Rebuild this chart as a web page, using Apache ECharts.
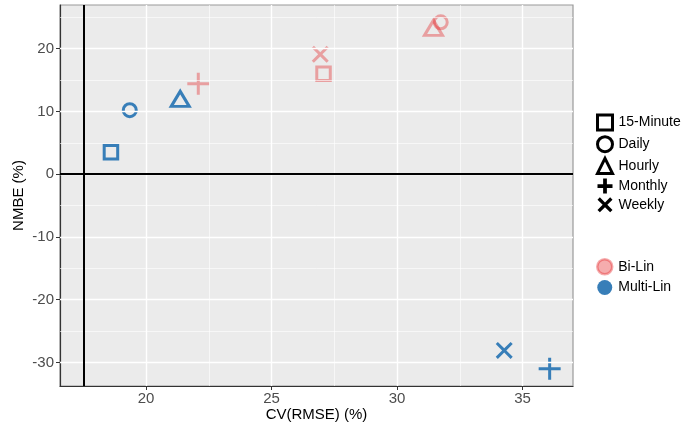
<!DOCTYPE html>
<html>
<head>
<meta charset="utf-8">
<script src="https://cdn.jsdelivr.net/npm/echarts@6/dist/echarts.min.js"></script>
<style>html,body{margin:0;padding:0;background:#fff}#c{width:686px;height:430px}</style>
</head>
<body>
<div id="c"></div>
<script>
// ---- data ----
var shapes = ['15-Minute', 'Daily', 'Hourly', 'Monthly', 'Weekly'];
var models = ['Bi-Lin', 'Multi-Lin'];
var biLinCV    = [27.07, 31.74, 31.45, 22.08, 26.94];
var biLinNMBE  = [16.0, 24.2, 22.9, 14.4, 19.1];
var multiLinCV   = [18.60, 19.35, 21.36, 36.08, 34.27];
var multiLinNMBE = [3.5, 10.2, 11.6, -31.0, -28.1];
var xTicks = [20, 25, 30, 35];
var xMinor = [22.5, 27.5, 32.5];
var yTicks = [-30, -20, -10, 0, 10, 20];
var yMinor = [-25, -15, -5, 5, 15, 25];
var vRef = 17.5;
var hRef = 0;

// ---- styles ----
var FONT = 'Liberation Sans, Arial, sans-serif';
var BLUE = '#377EB8';
var PINK = 'rgba(228,26,28,0.36)';
var PLUS = 'path://M9.5,0H12.5V9.5H22V12.5H12.5V22H9.5V12.5H0V9.5H9.5Z';
var CROSS = 'path://M0,2.12L2.12,0L8.5,6.38L14.88,0L17,2.12L10.62,8.5L17,14.88L14.88,17L8.5,10.62L2.12,17L0,14.88L6.38,8.5Z';
var PLUS_L = 'path://M6,0H10V6H16V10H10V16H6V10H0V6H6Z';
var CROSS_L = 'path://M0,2.5L2.5,0L8,5.5L13.5,0L16,2.5L10.5,8L16,13.5L13.5,16L8,10.5L2.5,16L0,13.5L5.5,8Z';
var icons = {
  '15-Minute': 'rect',
  'Daily': 'circle',
  'Hourly': 'triangle',
  'Monthly': PLUS,
  'Weekly': CROSS
};
var legendIcons = {
  '15-Minute': 'rect',
  'Daily': 'circle',
  'Hourly': 'triangle',
  'Monthly': PLUS_L,
  'Weekly': CROSS_L
};
var filled = {'Monthly': true, 'Weekly': true};
var sizes = {
  '15-Minute': 13.5,
  'Daily': 13,
  'Hourly': [18, 15],
  'Monthly': 22,
  'Weekly': 17
};
var offsets = {'Hourly': [0, -2.6]};

function markStyle(shape, col) {
  if (filled[shape]) return {color: col, borderWidth: 0, opacity: 1};
  return {color: 'transparent', borderColor: col, borderWidth: 3, opacity: 1};
}

var gridLines = [];
xMinor.forEach(function (v) { gridLines.push({xAxis: v, lineStyle: {color: '#fff', width: 0.6, type: 'solid'}}); });
yMinor.forEach(function (v) { gridLines.push({yAxis: v, lineStyle: {color: '#fff', width: 0.6, type: 'solid'}}); });
xTicks.forEach(function (v) { gridLines.push({xAxis: v, lineStyle: {color: '#fff', width: 1.4, type: 'solid'}}); });
yTicks.forEach(function (v) { gridLines.push({yAxis: v, lineStyle: {color: '#fff', width: 1.4, type: 'solid'}}); });
gridLines.push({xAxis: vRef, lineStyle: {color: '#000', width: 2, type: 'solid'}});
gridLines.push({yAxis: hRef, lineStyle: {color: '#000', width: 2, type: 'solid'}});

var series = [{
  name: '_grid', type: 'scatter', data: [], silent: true, z: 1,
  markLine: {silent: true, symbol: ['none', 'none'], label: {show: false}, animation: false, data: gridLines}
}];
shapes.forEach(function (s, i) {
  series.push({
    name: s, type: 'scatter', symbol: icons[s], symbolSize: sizes[s],
    symbolOffset: offsets[s] || [0, 0], z: 3,
    itemStyle: markStyle(s, '#000'),
    emphasis: {disabled: true},
    data: [
      {value: [biLinCV[i], biLinNMBE[i]], itemStyle: markStyle(s, PINK)},
      {value: [multiLinCV[i], multiLinNMBE[i]], itemStyle: markStyle(s, BLUE)}
    ]
  });
});
series.push({name: 'Bi-Lin', type: 'scatter', data: [], symbol: 'circle', itemStyle: {color: PINK, borderColor: PINK, borderWidth: 2.5, opacity: 1}});
series.push({name: 'Multi-Lin', type: 'scatter', data: [], symbol: 'circle', itemStyle: {color: BLUE, opacity: 1}});

var chart = echarts.init(document.getElementById('c'), null, {renderer: 'canvas'});
chart.setOption({
  animation: false,
  textStyle: {fontFamily: FONT},
  grid: {left: 60, right: 113, top: 5, bottom: 44, outerBoundsMode: 'none', containLabel: false,
    show: true, backgroundColor: '#EBEBEB', borderColor: '#9a9a9a', borderWidth: 1.2},
  xAxis: {
    type: 'value', min: 16.57, max: 37.01,
    name: 'CV(RMSE) (%)', nameLocation: 'middle', nameGap: 21.5, nameMoveOverlap: false,
    nameTextStyle: {color: '#000', fontSize: 15, fontFamily: FONT},
    axisLine: {show: true, onZero: false, lineStyle: {color: '#333', width: 1.2}},
    axisTick: {show: true, length: 4, customValues: xTicks, lineStyle: {color: '#333'}},
    axisLabel: {customValues: xTicks, color: '#4D4D4D', fontSize: 15, margin: 5, fontFamily: FONT},
    splitLine: {show: false}
  },
  yAxis: {
    type: 'value', min: -33.76, max: 26.96,
    name: 'NMBE (%)', nameLocation: 'middle', nameGap: 34, nameMoveOverlap: false,
    nameTextStyle: {color: '#000', fontSize: 15, fontFamily: FONT},
    axisLine: {show: true, onZero: false, lineStyle: {color: '#333', width: 1.2}},
    axisTick: {show: true, length: 4, customValues: yTicks, lineStyle: {color: '#333'}},
    axisLabel: {customValues: yTicks, color: '#4D4D4D', fontSize: 15, margin: 6, fontFamily: FONT},
    splitLine: {show: false}
  },
  legend: [{
    orient: 'vertical', left: 591, top: 108.5, padding: 5, itemWidth: 15, itemHeight: 15, itemGap: 3.7,
    selectedMode: false, textStyle: {color: '#000', fontSize: 14, fontFamily: FONT, padding: [0, 0, 0, 1]},
    data: shapes.map(function (s) {
      var st = markStyle(s, '#000');
      return {name: s, icon: legendIcons[s], itemStyle: st};
    })
  }, {
    orient: 'vertical', left: 591, top: 253, padding: 5, itemWidth: 15, itemHeight: 15, itemGap: 4.5,
    selectedMode: false, textStyle: {color: '#000', fontSize: 14, fontFamily: FONT, padding: [0, 0, 0, 1]},
    data: [
      {name: 'Bi-Lin', icon: 'circle', itemStyle: {color: PINK, borderColor: PINK, borderWidth: 2.5, opacity: 1}},
      {name: 'Multi-Lin', icon: 'circle', itemStyle: {color: BLUE, borderColor: BLUE, borderWidth: 0, opacity: 1}}
    ]
  }],
  series: series
});
</script>
</body>
</html>
